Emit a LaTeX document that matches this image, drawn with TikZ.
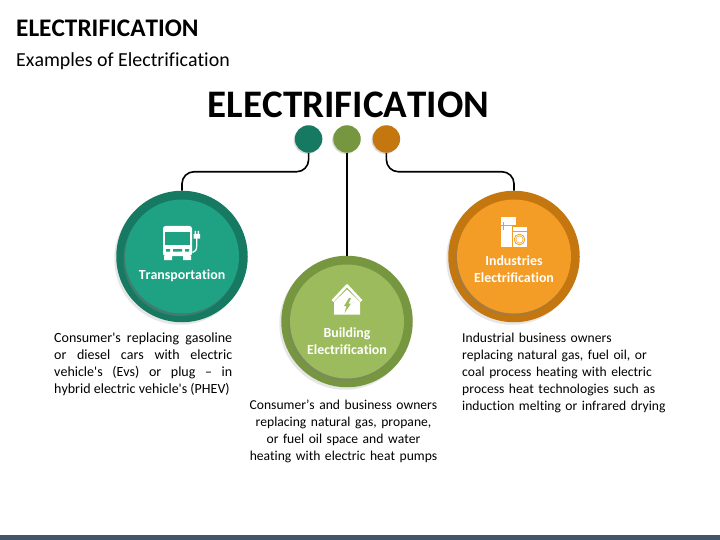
\documentclass[tikz,border=0pt]{standalone}
\usepackage{fontspec}
\setmainfont[Ligatures={TeX,NoCommon},Kerning=Off]{Carlito}
\newfontfamily\bodyfont[Ligatures=NoCommon,Kerning=Off]{Carlito}
\usetikzlibrary{calc,positioning,shadows}
\definecolor{tealDark}{HTML}{167A63}
\definecolor{tealLight}{HTML}{1FA184}
\definecolor{greenDark}{HTML}{76963F}
\definecolor{greenLight}{HTML}{9CBB5C}
\definecolor{orangeDark}{HTML}{C4760F}
\definecolor{orangeLight}{HTML}{F39C26}
\definecolor{barColor}{HTML}{44546A}
\tikzset{
	dotnode/.style={circle,minimum size=27.5pt,inner sep=0pt,drop shadow={shadow xshift=-1.2pt,shadow yshift=-1.2pt,opacity=.3}},
	outernode/.style={circle,minimum size=131.5pt,inner sep=0pt,drop shadow={shadow xshift=-2pt,shadow yshift=-2.5pt,opacity=.2}},
	innernode/.style={circle,minimum size=114pt,inner sep=0pt,drop shadow={shadow xshift=-1.5pt,shadow yshift=-2.5pt,opacity=.4}},
	labelnode/.style={text=white,align=center,inner sep=0pt,font=\fontsize{13.9}{17}\selectfont\bfseries},
	bodynode/.style={inner sep=0pt,font=\bodyfont\fontsize{13.6}{17}\selectfont},
	link/.style={draw=black,line width=1.6pt,rounded corners=12pt},
}
\begin{document}
\begin{tikzpicture}[x=1pt,y=-1pt,node distance=10.5pt]
	\useasboundingbox (0,0) rectangle (720,540);
	\fill[barColor] (0,535) rectangle (720,540);
	%
	\node[anchor=west,inner sep=0pt,font=\fontsize{25.3}{30}\selectfont\bfseries] (pagetitle) at (16,28) {ELECTRIFICATION};
	\node[anchor=west,inner sep=0pt,font=\fontsize{19.9}{24}\selectfont] (pagesub) at (16,61) {Examples of Electrification};
	\node[inner sep=0pt,font=\fontsize{39}{46}\selectfont\bfseries] (bigtitle) at (348.5,105) {ELECTRIFICATION};
	%
	\node[dotnode,fill=greenDark] (dotB) at (347,139) {};
	\node[dotnode,fill=tealDark,left = of dotB] (dotT) {};
	\node[dotnode,fill=orangeDark,right = of dotB,xshift=1pt] (dotI) {};
	%
	\node[outernode,fill=tealDark] (outerT) at (182,256.5) {};
	\node[outernode,fill=greenDark] (outerB) at (347,321.5) {};
	\node[outernode,fill=orangeDark] (outerI) at (514,256.5) {};
	\node[innernode,fill=tealLight] (innerT) at (outerT) {};
	\node[innernode,fill=greenLight] (innerB) at (outerB) {};
	\node[innernode,fill=orangeLight] (innerI) at (outerI) {};
	%
	\draw[link] (dotT.south) |- ($(dotT.south)!.5!(outerT.north)$) -| (outerT.north);
	\draw[link] (dotB.south) -- (outerB.north);
	\draw[link] (dotI.south) |- ($(dotI.south)!.5!(outerI.north)$) -| (outerI.north);
	%
	\node[labelnode] (labelT) at (182,275.3) {Transportation};
	\node[labelnode] (labelB) at (347,340.8) {Building\\Electrification};
	\node[labelnode] (labelI) at (514,269.3) {Industries\\Electrification};
	%
	% bus and plug
	\fill[white,rounded corners=2.5pt] (163,226) rectangle (192,256);
	\fill[tealLight] (165,232) rectangle (190,245);
	\fill[tealLight] (166,249) rectangle (170,251.5) (173,249) rectangle (182,251.5) (185,249) rectangle (189,251.5);
	\fill[white] (164,256) rectangle (172,260) (183,256) rectangle (191,260);
	\fill[white] (193.5,234) rectangle (200,238.5) (194.5,231) rectangle (196,234) (197.5,231) rectangle (199,234);
	\draw[white,line width=1.3pt] (196.7,238) -- (196.7,246) .. controls (196.7,250) and (195,252) .. (192.5,252.5);
	%
	% house with bolt
	\draw[white,line width=2.6pt,line join=round] (332.5,301) -- (347,285.5) -- (361.5,301);
	\fill[white] (334,314.5) -- (334,302) -- (347,289.5) -- (360,302) -- (360,314.5) -- cycle;
	\fill[greenLight] (349,298) -- (344,306) -- (346.5,306) -- (344.5,313) -- (351,303.5) -- (348.5,303.5) -- (351,298) -- cycle;
	%
	% fridge and washer
	\fill[white] (501,217) rectangle (516,247);
	\fill[orangeLight] (501,225.5) rectangle (516,226.3);
	\fill[orangeLight] (503,222) rectangle (504,230);
	\fill[orangeLight] (511.5,226.5) rectangle (528,248);
	\fill[white] (512.5,227.5) rectangle (527,247);
	\fill[orangeLight] (512.5,231) rectangle (527,231.8);
	\draw[orangeLight,line width=.8pt] (519.5,239.5) circle (5.3pt);
	\draw[orangeLight,line width=.5pt] (519.5,239.5) circle (3.6pt);
	%
	\node[bodynode,font=\bodyfont\fontsize{14}{17}\selectfont,anchor=north west,text width=178pt,align=justify] (textT) at (54,333) {Consumer's replacing gasoline\linebreak or diesel cars with electric\linebreak vehicle's (Evs) or plug – in\linebreak hybrid electric vehicle's (PHEV)};
	\node[bodynode,anchor=north,text width=200pt,align=center] (textB) at (343.5,400) {Consumer’s and business owners\\replacing natural gas, propane,\\or fuel oil space and water\\heating with electric heat pumps};
	\node[bodynode,anchor=north west,text width=230pt,align=left] (textI) at (462,333) {Industrial business owners\\replacing natural gas, fuel oil, or\\coal process heating with electric\\process heat technologies such as\\induction melting or infrared drying};
\end{tikzpicture}
\end{document}
